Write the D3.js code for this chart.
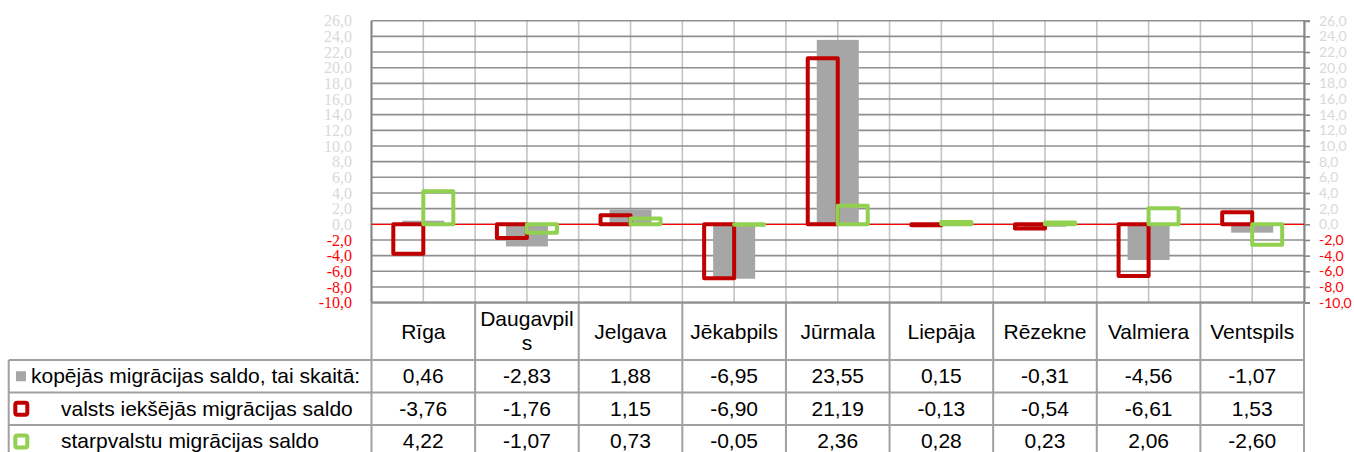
<!DOCTYPE html>
<html><head><meta charset="utf-8">
<script src="https://cdn.jsdelivr.net/npm/d3@7"></script>
<style>body{margin:0;background:#fff}svg{display:block}</style>
</head><body><svg id="c" width="1354" height="452"></svg>
<script>
const categories = ["Rīga","Daugavpils","Jelgava","Jēkabpils","Jūrmala","Liepāja","Rēzekne","Valmiera","Ventspils"];
const seriesNames = ["kopējās migrācijas saldo, tai skaitā:","valsts iekšējās migrācijas saldo","starpvalstu migrācijas saldo"];
const totalValues = [0.46,-2.83,1.88,-6.95,23.55,0.15,-0.31,-4.56,-1.07];
const domesticValues = [-3.76,-1.76,1.15,-6.90,21.19,-0.13,-0.54,-6.61,1.53];
const internationalValues = [4.22,-1.07,0.73,-0.05,2.36,0.28,0.23,2.06,-2.60];
const tickValues = [-10,-8,-6,-4,-2,0,2,4,6,8,10,12,14,16,18,20,22,24,26];

const svg = d3.select("#c");
const L = 371.5, R = 1304, T = 20.7, B = 302.6;
const x = d3.scaleBand().domain(categories).range([L, R]).padding(0);
const y = d3.scaleLinear().domain([-10, 26]).range([B, T]);
const bw = x.bandwidth();
const fmt = v => d3.format(".1f")(v).replace(".", ",").replace("−","-");
const fmt2 = v => d3.format(".2f")(v).replace(".", ",").replace("−","-");
const GREY="#a6a6a6", RED="#c00000", GREEN="#92d050";

// vertical gridlines (half categories)
const g = svg.append("g");
const halfTicks = d3.range(0, categories.length*2+1).map(i => L + i*bw/2);
g.selectAll("line.v").data(halfTicks).join("line")
  .attr("x1", d=>d).attr("x2", d=>d).attr("y1", T).attr("y2", B)
  .attr("stroke", "#c3c3c3").attr("stroke-width", 1.6);
// horizontal gridlines
g.selectAll("line.h").data(tickValues).join("line")
  .attr("x1", L).attr("x2", R).attr("y1", d=>y(d)).attr("y2", d=>y(d))
  .attr("stroke", "#8f8f8f").attr("stroke-width", 1.6);
// left axis line
g.append("line").attr("x1", L).attr("x2", L).attr("y1", T).attr("y2", B)
  .attr("stroke", "#868686").attr("stroke-width", 2);

// left axis labels (serif)
const labelColor = d => d < 0 ? "#ff0000" : "#d9d9d9";
svg.append("g").selectAll("text").data(tickValues).join("text")
  .attr("x", 352).attr("y", d=>y(d)).attr("dy", "0.35em")
  .attr("text-anchor", "end").attr("font-family", "Liberation Serif")
  .attr("font-size", 16).attr("fill", labelColor).text(fmt);

// right axis with d3.axisRight
const ra = svg.append("g").attr("transform", `translate(${R},0)`)
  .call(d3.axisRight(y).tickValues(tickValues).tickSize(6).tickPadding(9).tickFormat(fmt));
ra.select(".domain").attr("stroke", "#868686").attr("stroke-width", 2);
ra.selectAll(".tick line").attr("stroke", "#868686").attr("stroke-width", 1.6);
ra.selectAll(".tick text").attr("font-family", "Lato").attr("font-size", 14)
  .attr("fill", d => labelColor(d));

// grey bars
const totals = categories.map((c,i)=>({c, v: totalValues[i]}));
svg.append("g").selectAll("rect").data(totals).join("rect")
  .attr("x", d => x(d.c) + bw/2 - 21).attr("width", 42)
  .attr("y", d => Math.min(y(d.v), y(0))).attr("height", d => Math.abs(y(d.v)-y(0)))
  .attr("fill", GREY);

// zero line
svg.append("line").attr("x1", L).attr("x2", R).attr("y1", y(0)).attr("y2", y(0))
  .attr("stroke", "#ff0000").attr("stroke-width", 1.3);

function outlineBars(vals, color, off) {
  const data = categories.map((c,i)=>({c, v: vals[i]}));
  svg.append("g").selectAll("rect").data(data).join("rect")
    .attr("x", d => x(d.c) + bw/2 + off).attr("width", 30)
    .attr("y", d => Math.min(y(d.v), y(0))).attr("height", d => Math.abs(y(d.v)-y(0)))
    .attr("fill", "none").attr("stroke", color).attr("stroke-width", 4)
    .attr("stroke-linejoin", "round");
}
outlineBars(domesticValues, RED, -30);
outlineBars(internationalValues, GREEN, 0);

// ---- data table ----
const tb = svg.append("g");
const FONT = "Liberation Sans", FS = 21;
const TL = 8.7, headerTop = B;
const rowTops = [360, 392.5, 425, 458];
const border = "#a0a0a0";
tb.selectAll("line.hv").data(d3.range(0, categories.length+1)).join("line")
  .attr("x1", i => L + i*bw).attr("x2", i => L + i*bw).attr("y1", headerTop).attr("y2", rowTops[3])
  .attr("stroke", border).attr("stroke-width", 2);
tb.append("line").attr("x1", L).attr("x2", R).attr("y1", headerTop).attr("y2", headerTop)
  .attr("stroke", "#8f8f8f").attr("stroke-width", 2);
tb.selectAll("line.rh").data(rowTops).join("line")
  .attr("x1", TL).attr("x2", R).attr("y1", d=>d).attr("y2", d=>d)
  .attr("stroke", border).attr("stroke-width", 2);
tb.append("line").attr("x1", TL).attr("x2", TL).attr("y1", rowTops[0]).attr("y2", rowTops[3])
  .attr("stroke", border).attr("stroke-width", 2);

// header labels with wrapping
categories.forEach((c) => {
  const cx = x(c) + bw/2;
  const t = tb.append("text").attr("x", cx).attr("text-anchor", "middle")
    .attr("font-family", FONT).attr("font-size", FS).attr("fill", "#000").text(c);
  const w = t.node().getComputedTextLength();
  if (w > bw - 6) {
    let first = c;
    while (first.length > 1) {
      t.text(first);
      if (t.node().getComputedTextLength() <= bw - 6) break;
      first = first.slice(0, -1);
    }
    const rest = c.slice(first.length);
    t.text(null);
    t.append("tspan").attr("x", cx).attr("y", 325.5).text(first);
    t.append("tspan").attr("x", cx).attr("y", 350).text(rest);
  } else {
    t.attr("y", 338.5);
  }
});

// rows
const rows = [totalValues, domesticValues, internationalValues];
const rowColors = [GREY, RED, GREEN];
rows.forEach((vals, r) => {
  const base = rowTops[r] + 23;
  tb.selectAll(null).data(vals).join("text")
    .attr("x", (d,i) => x(categories[i]) + bw/2).attr("y", base)
    .attr("text-anchor", "middle").attr("font-family", FONT).attr("font-size", FS)
    .attr("fill", "#000").text(fmt2);
  const ty = (rowTops[r] + rowTops[r+1]) / 2;
  if (r === 0) {
    tb.append("rect").attr("x", 16).attr("y", ty - 5).attr("width", 10).attr("height", 10).attr("fill", GREY);
    tb.append("text").attr("x", 31).attr("y", base).attr("font-family", FONT).attr("font-size", FS)
      .attr("fill", "#000").text(seriesNames[r]);
  } else {
    tb.append("rect").attr("x", 15.3).attr("y", ty - 6).attr("width", 12).attr("height", 12)
      .attr("rx", 2).attr("fill", "#fff").attr("stroke", rowColors[r]).attr("stroke-width", 4);
    tb.append("text").attr("x", 61).attr("y", base).attr("font-family", FONT).attr("font-size", FS)
      .attr("fill", "#000").text(seriesNames[r]);
  }
});
</script></body></html>
